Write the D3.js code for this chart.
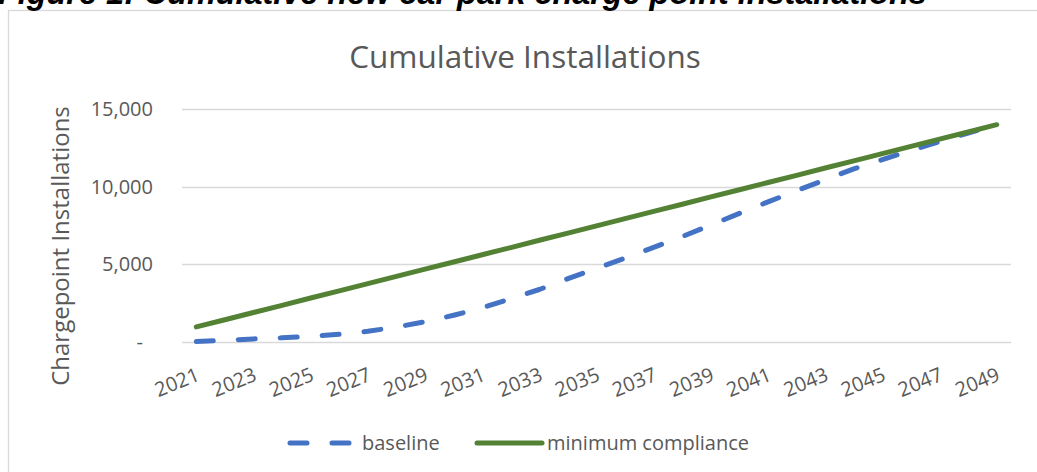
<!DOCTYPE html>
<html>
<head>
<meta charset="utf-8">
<script src="https://cdn.jsdelivr.net/npm/d3@7"></script>
<style>
  body { margin: 0; background: #fff; }
  svg { display: block; }
  text { font-family: "Open Sans", "Noto Sans", sans-serif; fill: #595959; }
</style>
</head>
<body>
<svg width="1037" height="472"></svg>
<script>
// years on the category axis
var years = d3.range(2021, 2050);

// cumulative installations
var baseline = [30, 110, 200, 270, 360, 500, 690, 960, 1300, 1720, 2200, 2790, 3380, 4080, 4740,
                5400, 6090, 6790, 7530, 8280, 9020, 9740, 10440, 11150, 11740, 12330, 12900, 13450, 14000];
var minimumCompliance = [970, 1430, 1900, 2360, 2830, 3290, 3760, 4220, 4690, 5150, 5620, 6080, 6550, 7010, 7480,
                         7940, 8410, 8870, 9340, 9800, 10270, 10730, 11200, 11660, 12130, 12590, 13060, 13520, 13990];

var yTicks = [0, 5000, 10000, 15000];

var series = [
  { name: "baseline", values: baseline, color: "#4472c4", dash: "17,25" },
  { name: "minimum compliance", values: minimumCompliance, color: "#548235", dash: null }
];

var svg = d3.select("svg");

svg.append("rect").attr("width", 1037).attr("height", 472).attr("fill", "#fff");

// chart frame (right and bottom edges fall outside the picture)
svg.append("rect")
    .attr("x", 8.5).attr("y", 10.5)
    .attr("width", 1200).attr("height", 600)
    .attr("fill", "none")
    .attr("stroke", "#d9d9d9")
    .attr("stroke-width", 1.3);

// figure caption, cropped at the top like the original
svg.append("text")
    .attr("x", -2).attr("y", 4)
    .style("font-family", "'Liberation Sans', Arial, sans-serif")
    .style("font-weight", "bold")
    .style("font-style", "italic")
    .style("font-size", "32.4px")
    .style("fill", "#000")
    .text("Figure 1: Cumulative new car park charge point installations");

var x = d3.scalePoint()
    .domain(years)
    .range([182, 1011])
    .padding(0.5);

var y = d3.scaleLinear()
    .domain([0, 15000])
    .range([342, 109]);

// gridlines
svg.append("g")
  .selectAll("line")
  .data(yTicks)
  .enter().append("line")
    .attr("x1", 182).attr("x2", 1011)
    .attr("y1", function(d) { return Math.round(y(d)) + 0.5; })
    .attr("y2", function(d) { return Math.round(y(d)) + 0.5; })
    .attr("stroke", "#d9d9d9")
    .attr("stroke-width", 1.5);

// y axis labels
var yAxis = svg.append("g")
    .attr("transform", "translate(153,0)")
    .call(d3.axisLeft(y)
      .tickValues(yTicks)
      .tickSize(0)
      .tickPadding(0)
      .tickFormat(function(d) { return d === 0 ? "-" : d3.format(",")(d); }));
yAxis.select(".domain").remove();
yAxis.selectAll("text")
    .style("font-size", "20px")
    .attr("fill", "#595959")
    .attr("dx", function(d) { return d === 0 ? -10 : 0; });

// x axis labels, every other year, slanted
var xAxis = svg.append("g")
    .attr("transform", "translate(0,342)")
    .call(d3.axisBottom(x)
      .tickValues(years.filter(function(d, i) { return i % 2 === 0; }))
      .tickSize(0)
      .tickPadding(0));
xAxis.select(".domain").remove();
xAxis.selectAll("text")
    .style("font-size", "20px")
    .attr("fill", "#595959")
    .attr("text-anchor", "end")
    .attr("y", 0)
    .attr("dy", 0)
    .attr("transform", "translate(4,38) rotate(-22)");

// lines
var line = d3.line()
    .x(function(d, i) { return x(years[i]); })
    .y(function(d) { return y(d); });

svg.append("g")
  .selectAll("path")
  .data(series)
  .enter().append("path")
    .attr("d", function(d) { return line(d.values); })
    .attr("fill", "none")
    .attr("stroke", function(d) { return d.color; })
    .attr("stroke-width", 5)
    .attr("stroke-linecap", "round")
    .attr("stroke-linejoin", "round")
    .attr("stroke-dasharray", function(d) { return d.dash; });

// chart title
svg.append("text")
    .attr("x", 525).attr("y", 68)
    .attr("text-anchor", "middle")
    .style("font-size", "31.5px")
    .text("Cumulative Installations");

// y axis title
svg.append("text")
    .attr("transform", "translate(69,246) rotate(-90)")
    .attr("text-anchor", "middle")
    .style("font-size", "24px")
    .text("Chargepoint Installations");

// legend
var legendItems = [
  { s: series[0], x1: 290, x2: 350, tx: 362 },
  { s: series[1], x1: 477, x2: 542, tx: 547 }
];
var legend = svg.append("g");
legendItems.forEach(function(d) {
  legend.append("line")
      .attr("x1", d.x1).attr("x2", d.x2)
      .attr("y1", 443).attr("y2", 443)
      .attr("stroke", d.s.color)
      .attr("stroke-width", 5)
      .attr("stroke-linecap", "round")
      .attr("stroke-dasharray", d.s.dash ? "17,25" : null);
  legend.append("text")
      .attr("x", d.tx).attr("y", 450)
      .style("font-size", "20px")
      .text(d.s.name);
});
</script>
</body>
</html>
